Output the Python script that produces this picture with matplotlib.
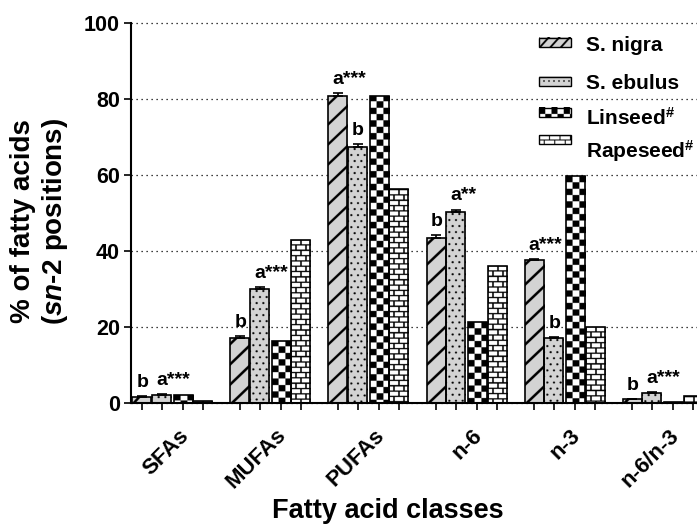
import numpy as np
import matplotlib
matplotlib.use("Agg")
import matplotlib.pyplot as plt
from matplotlib.transforms import blended_transform_factory, ScaledTranslation

plt.rcParams['font.family'] = ['Liberation Sans', 'DejaVu Sans']
plt.rcParams['font.weight'] = 'bold'
plt.rcParams['mathtext.fontset'] = 'custom'
plt.rcParams['mathtext.rm'] = 'Liberation Sans:bold'
plt.rcParams['mathtext.bf'] = 'Liberation Sans:bold'
plt.rcParams['mathtext.it'] = 'Liberation Sans:italic:bold'
plt.rcParams['mathtext.default'] = 'bf'

# ---------------- data ----------------
categories = ['SFAs', 'MUFAs', 'PUFAs', 'n-6', 'n-3', 'n-6/n-3']
series_names = ['S. nigra', 'S. ebulus', r'Linseed$^{\#}$', r'Rapeseed$^{\#}$']
s_nigra = [1.6, 17.2, 81.0, 43.6, 37.6, 1.1]
s_nigra_err = [0.2, 0.4, 0.6, 0.6, 0.5, 0.1]
s_ebulus = [2.3, 30.1, 67.5, 50.3, 17.2, 2.8]
s_ebulus_err = [0.1, 0.4, 0.7, 0.7, 0.3, 0.2]
linseed = [2.3, 16.4, 81.0, 21.3, 59.7, 0.3]
rapeseed = [0.6, 43.0, 56.3, 36.1, 20.2, 1.8]
nigra_labels = ['b', 'b', 'a***', 'b', 'a***', 'b']
ebulus_labels = ['a***', 'a***', 'b', 'a**', 'b', 'a***']
yticks = [0, 20, 40, 60, 80, 100]

# ---------------- figure ----------------
W, H = 697, 525
fig = plt.figure(figsize=(W / 100, H / 100), dpi=100)
ax = fig.add_axes([131 / W, 1 - 403.3 / H, 1 - 131 / W, (403.3 - 23.3) / H])
ax.set_xlim(-0.421, 5.35)
ax.set_ylim(0, 100)
ax.set_autoscale_on(False)

offsets = [-0.311, -0.110, 0.110, 0.311]
bw = 0.194
xg = np.arange(len(categories))

GREY = (0.83, 0.83, 0.83)
SS = 4  # supersampling


def grid_coords(wpx, hpx):
    hs, ws = int(round(hpx * SS)), int(round(wpx * SS))
    yy, xx = np.mgrid[0:hs, 0:ws]
    return (xx + 0.5) / SS, (yy + 0.5) / SS, hs, ws


def tex_diag(wpx, hpx, period=20.0, thick=2.4):
    xx, yy, hs, ws = grid_coords(wpx, hpx)
    yb = hpx - yy
    m = np.mod(xx - yb, period) < thick * 1.414
    return m, GREY


def tex_dots(wpx, hpx, dx=None, dy=6.0, r=1.05):
    xx, yy, hs, ws = grid_coords(wpx, hpx)
    if dx is None:
        dx = wpx / 3.0
    row = np.floor(yy / dy)
    off = np.where(row % 2 == 0, dx / 2, 0.0)
    cx = np.mod(xx - off, dx) - dx / 2
    cy = np.mod(yy, dy) - dy / 2
    m = (cx ** 2 + cy ** 2) < r ** 2
    return m, GREY


def tex_checker(wpx, hpx, sq=None):
    xx, yy, hs, ws = grid_coords(wpx, hpx)
    if sq is None:
        sq = wpx / 3.0
    m = (np.floor(xx / sq) + np.floor(yy / sq)) % 2 == 0
    return m, (1, 1, 1)


def tex_brick(wpx, hpx, L=None, p=5.3, t=1.3):
    xx, yy, hs, ws = grid_coords(wpx, hpx)
    if L is None:
        L = wpx / 2.0
    row = np.floor(yy / p)
    hline = np.mod(yy, p) < t
    off = np.where(row % 2 == 0, 0.0, L / 2)
    vl = np.mod(xx - off + t / 2, L) < t
    return hline | vl, (1, 1, 1)


def to_rgba(mask, bg):
    img = np.ones(mask.shape + (3,))
    img[:] = bg
    img[mask] = (0, 0, 0)
    return img


textures = [tex_diag, tex_dots, tex_checker, tex_brick]
all_vals = [s_nigra, s_ebulus, linseed, rapeseed]

for si, (vals, tex) in enumerate(zip(all_vals, textures)):
    xs = xg + offsets[si]
    bars = ax.bar(xs, vals, width=bw, color='white', edgecolor='none', zorder=2)
    for b, x, v in zip(bars, xs, vals):
        p0 = ax.transData.transform((x - bw / 2, 0))
        p1 = ax.transData.transform((x + bw / 2, v))
        wpx, hpx = p1[0] - p0[0], p1[1] - p0[1]
        if hpx < 0.5:
            continue
        mask, bg = tex(wpx, hpx)
        im = ax.imshow(to_rgba(mask, bg), extent=(x - bw / 2, x + bw / 2, 0, v),
                       aspect='auto', interpolation='antialiased', zorder=2.5)
        im.set_clip_path(b)
    ax.bar(xs, vals, width=bw, fill=False, edgecolor='black', linewidth=1.2, zorder=3)

# error bars (upper only)
for si, (vals, errs) in enumerate([(s_nigra, s_nigra_err), (s_ebulus, s_ebulus_err)]):
    xs = xg + offsets[si]
    ax.errorbar(xs, vals, yerr=[np.zeros(len(vals)), errs], fmt='none', ecolor='black',
                elinewidth=1.2, capsize=3.6, capthick=1.2, zorder=4)

# significance letters
px = 1 / 100 * 72  # points per pixel
for si, (vals, errs, labs) in enumerate([(s_nigra, s_nigra_err, nigra_labels),
                                         (s_ebulus, s_ebulus_err, ebulus_labels)]):
    xs = xg + offsets[si]
    for x, v, e, lab in zip(xs, vals, errs, labs):
        ax.annotate(lab, xy=(x, v + e), xytext=(-5.5 * px, 9 * px), textcoords='offset points',
                    ha='left', va='baseline', fontsize=14, fontweight='bold', zorder=5)

# axes styling
ax.spines['top'].set_visible(False)
ax.spines['right'].set_visible(False)
ax.spines['left'].set_linewidth(1.5)
ax.spines['bottom'].set_linewidth(1.5)
ax.set_yticks(yticks)
ax.set_yticklabels([str(t) for t in yticks], fontsize=15.5, fontweight='bold')
ax.tick_params(axis='y', length=5, width=1.2, pad=3)
bar_ticks = np.sort(np.concatenate([xg + o for o in offsets]))
ax.set_xticks(bar_ticks)
ax.set_xticklabels([])
ax.tick_params(axis='x', length=5, width=1.2)
ax.yaxis.grid(True, linestyle=(0, (1, 3)), color='black', linewidth=0.9)
ax.set_axisbelow(True)
for gl in ax.get_ygridlines():
    gl.set_clip_on(False)

# category labels
trans = blended_transform_factory(ax.transData, ax.transAxes)
for x, c in zip(xg, categories):
    ax.text(x, 0, c, rotation=45, ha='right', va='center', rotation_mode='anchor',
            fontsize=16, fontweight='bold',
            transform=trans + ScaledTranslation(13 / 100, -29 / 100, fig.dpi_scale_trans))

# axis titles
fig.text(388 / W, 1 - 518.5 / H, 'Fatty acid classes', ha='center', va='baseline',
         fontsize=19.5, fontweight='bold')
fig.text(40 / W, 1 - 221 / H, '% of fatty acids\n($\\mathit{sn}$-2 positions)', rotation=90,
         ha='center', va='center', multialignment='center', fontsize=20, fontweight='bold')

# legend (manual)
legend_rows = [(38.3, 50.7), (76.5, 89.0), (108.0, 125.0), (135.0, 157.3)]
sw_x0, sw_x1 = 539, 571
sw_h = 9
leg_tex = [lambda w, h: tex_diag(w, h, period=10.5, thick=1.6),
           lambda w, h: tex_dots(w, h, dx=5.0, dy=9.0, r=0.8),
           lambda w, h: tex_checker(w, h, sq=6.2),
           lambda w, h: tex_brick(w, h, L=10.5, p=4.5, t=1.1)]
inv = ax.transData.inverted()
for name, (top, base), tf in zip(series_names, legend_rows, leg_tex):
    (dx0, dy1) = inv.transform((sw_x0, H - top))
    (dx1, dy0) = inv.transform((sw_x1, H - top - sw_h))
    mask, bg = tf(sw_x1 - sw_x0, sw_h)
    ax.imshow(to_rgba(mask, bg), extent=(dx0, dx1, dy0, dy1), aspect='auto',
              interpolation='antialiased', zorder=6, clip_on=False)
    ax.add_patch(plt.Rectangle((dx0, dy0), dx1 - dx0, dy1 - dy0, fill=False,
                               edgecolor='black', linewidth=1.0, zorder=7, clip_on=False))
    fig.text(586 / W, 1 - base / H, name, ha='left', va='baseline', fontsize=15,
             fontweight='bold')

ax.set_xlim(-0.421, 5.35)
ax.set_ylim(0, 100)
fig.savefig('out.png', dpi=100)
